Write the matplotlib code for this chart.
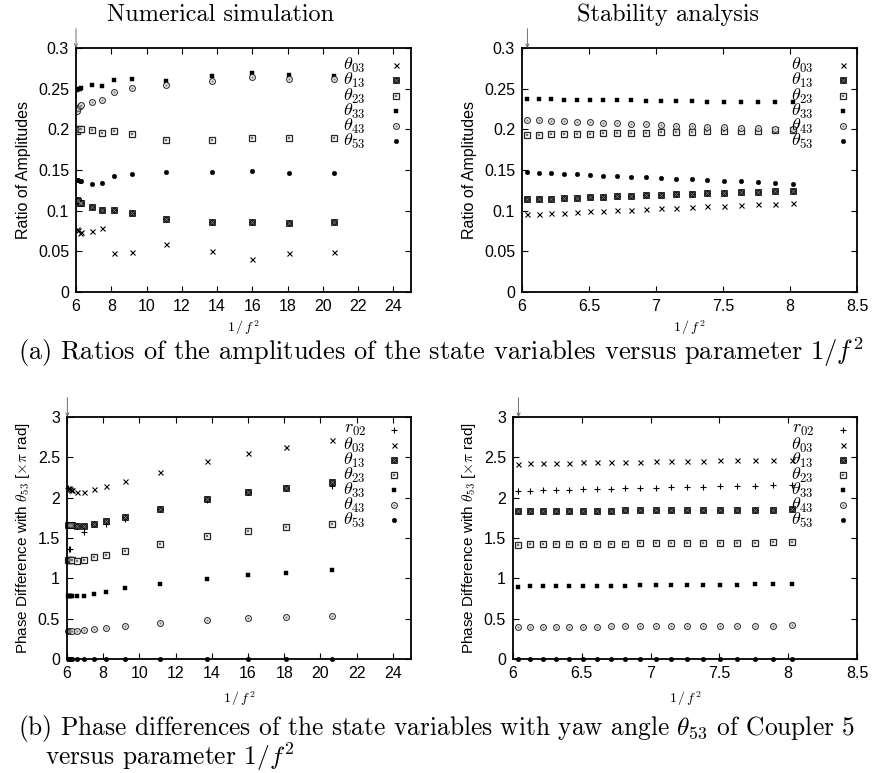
import matplotlib
matplotlib.use("Agg")
import matplotlib.pyplot as plt
from matplotlib.ticker import FuncFormatter, MultipleLocator

plt.rcParams['font.family'] = ['Liberation Sans', 'DejaVu Sans']
plt.rcParams['mathtext.fontset'] = 'cm'
plt.rcParams['axes.formatter.use_mathtext'] = True

# ---------------- data ----------------
# (a) amplitude ratios, numerical simulation
x_num_amp = [6.04, 6.12, 6.20, 6.28, 6.93, 7.50, 8.16, 9.18, 11.11, 13.72, 16.00, 18.10, 20.66]
amp_num_t03 = [0.078, 0.076, 0.072, 0.074, 0.0748, 0.0785, 0.0485, 0.049, 0.059, 0.051, 0.041, 0.0485, 0.049]
amp_num_t13 = [0.113, 0.112, 0.110, 0.109, 0.104, 0.101, 0.101, 0.097, 0.090, 0.0863, 0.0855, 0.0847, 0.0855]
amp_num_t23 = [0.198, 0.200, 0.200, 0.201, 0.199, 0.196, 0.1985, 0.194, 0.1866, 0.1874, 0.1895, 0.1895, 0.1895]
amp_num_t33 = [0.248, 0.249, 0.250, 0.251, 0.254, 0.2536, 0.261, 0.262, 0.260, 0.265, 0.269, 0.267, 0.266]
amp_num_t43 = [0.223, 0.226, 0.229, 0.230, 0.234, 0.2355, 0.246, 0.251, 0.254, 0.260, 0.264, 0.262, 0.262]
amp_num_t53 = [0.138, 0.138, 0.137, 0.136, 0.1328, 0.134, 0.1422, 0.1455, 0.1476, 0.1476, 0.1488, 0.1467, 0.1463]

# stability analysis x values (shared by both stability panels)
x_stab = [6.037, 6.127, 6.219, 6.313, 6.409, 6.508, 6.608, 6.712, 6.817, 6.925,
          7.036, 7.149, 7.265, 7.384, 7.506, 7.631, 7.759, 7.890, 8.025]
amp_stab_t03 = [0.0955, 0.0962, 0.0969, 0.0976, 0.0983, 0.0990, 0.0998, 0.1005, 0.1013, 0.1021,
                0.1029, 0.1037, 0.1045, 0.1053, 0.1061, 0.1070, 0.1078, 0.1087, 0.1096]
amp_stab_t13 = [0.1138, 0.1143, 0.1148, 0.1154, 0.1159, 0.1165, 0.1170, 0.1176, 0.1182, 0.1188,
                0.1194, 0.1200, 0.1206, 0.1212, 0.1219, 0.1225, 0.1232, 0.1239, 0.1246]
amp_stab_t23 = [0.1932, 0.1935, 0.1938, 0.1941, 0.1944, 0.1947, 0.1950, 0.1953, 0.1957, 0.1960,
                0.1964, 0.1967, 0.1970, 0.1974, 0.1977, 0.1980, 0.1984, 0.1988, 0.1993]
amp_stab_t33 = [0.2370, 0.2370, 0.2368, 0.2366, 0.2364, 0.2362, 0.2360, 0.2357, 0.2355, 0.2352,
                0.2350, 0.2347, 0.2345, 0.2342, 0.2340, 0.2337, 0.2335, 0.2332, 0.2330]
amp_stab_t43 = [0.2115, 0.2110, 0.2105, 0.2100, 0.2093, 0.2087, 0.2080, 0.2073, 0.2067, 0.2060,
                0.2053, 0.2046, 0.2040, 0.2033, 0.2026, 0.2020, 0.2012, 0.2005, 0.1998]
amp_stab_t53 = [0.1470, 0.1465, 0.1458, 0.1452, 0.1445, 0.1438, 0.1431, 0.1424, 0.1416, 0.1409,
                0.1401, 0.1393, 0.1385, 0.1377, 0.1368, 0.1360, 0.1351, 0.1342, 0.1333]

# (b) phase differences, numerical simulation
x_num_ph = [6.04, 6.10, 6.16, 6.22, 6.28, 6.55, 6.93, 7.50, 8.16, 9.18, 11.11, 13.72, 16.00, 18.10, 20.66]
ph_num_r02 = [2.12, 1.36, 1.36, 1.655, 1.655, 1.645, 1.578, 1.67, 1.675, 1.74, 1.855, 1.975, 2.075, 2.12, 2.14]
ph_num_t03 = [2.126, 2.12, 2.11, 2.10, 2.10, 2.07, 2.07, 2.11, 2.15, 2.21, 2.32, 2.45, 2.55, 2.625, 2.71]
ph_num_t13 = [1.656, 1.656, 1.656, 1.658, 1.66, 1.648, 1.652, 1.677, 1.714, 1.764, 1.858, 1.978, 2.065, 2.126, 2.19]
ph_num_t23 = [1.228, 1.228, 1.23, 1.232, 1.232, 1.22, 1.228, 1.26, 1.294, 1.343, 1.426, 1.525, 1.582, 1.632, 1.673]
ph_num_t33 = [0.783, 0.783, 0.783, 0.784, 0.784, 0.779, 0.787, 0.808, 0.836, 0.874, 0.931, 0.997, 1.038, 1.071, 1.10]
ph_num_t43 = [0.35, 0.35, 0.35, 0.352, 0.352, 0.35, 0.354, 0.367, 0.387, 0.408, 0.441, 0.478, 0.503, 0.519, 0.536]
ph_num_t53 = [0, 0, 0, 0, 0, 0, 0, 0, 0, 0, 0, 0, 0, 0, 0]

# (b) phase differences, stability analysis
ph_stab_r02 = [2.085, 2.088, 2.092, 2.096, 2.100, 2.104, 2.107, 2.111, 2.115, 2.119,
               2.123, 2.127, 2.131, 2.135, 2.139, 2.143, 2.147, 2.151, 2.155]
ph_stab_t03 = [2.423, 2.426, 2.429, 2.431, 2.434, 2.437, 2.440, 2.442, 2.445, 2.448,
               2.451, 2.453, 2.456, 2.459, 2.462, 2.464, 2.467, 2.470, 2.473]
ph_stab_t13 = [1.830, 1.831, 1.833, 1.834, 1.835, 1.837, 1.838, 1.839, 1.841, 1.842,
               1.843, 1.845, 1.846, 1.847, 1.849, 1.850, 1.851, 1.853, 1.854]
ph_stab_t23 = [1.418, 1.420, 1.421, 1.423, 1.424, 1.426, 1.428, 1.429, 1.431, 1.432,
               1.434, 1.435, 1.437, 1.439, 1.440, 1.442, 1.443, 1.445, 1.446]
ph_stab_t33 = [0.898, 0.900, 0.901, 0.903, 0.904, 0.906, 0.908, 0.909, 0.911, 0.912,
               0.914, 0.916, 0.917, 0.919, 0.920, 0.922, 0.924, 0.925, 0.927]
ph_stab_t43 = [0.396, 0.397, 0.398, 0.399, 0.400, 0.401, 0.402, 0.403, 0.404, 0.405,
               0.406, 0.407, 0.408, 0.410, 0.411, 0.412, 0.413, 0.414, 0.416]
ph_stab_t53 = [0, 0, 0, 0, 0, 0, 0, 0, 0, 0, 0, 0, 0, 0, 0, 0, 0, 0, 0]

labels = {
    'r02': r'$r_{02}$', 't03': r'$\theta_{03}$', 't13': r'$\theta_{13}$', 't23': r'$\theta_{23}$',
    't33': r'$\theta_{33}$', 't43': r'$\theta_{43}$', 't53': r'$\theta_{53}$',
}

# ---------------- styling ----------------
W, H = 873, 773
fig = plt.figure(figsize=(W / 100, H / 100), dpi=100)


def draw(ax, key, x, y, transform=None, clip=True):
    kw = dict(linestyle='none', clip_on=clip)
    if transform is not None:
        kw['transform'] = transform
    if key == 'r02':
        ax.plot(x, y, marker='+', ms=4.2, mew=0.8, color='k', **kw)
    elif key == 't03':
        ax.plot(x, y, marker='x', ms=3.6, mew=0.8, color='k', **kw)
    elif key == 't13':
        ax.plot(x, y, marker='s', ms=3.7, mfc='0.1', mec='k', mew=0.5, **kw)
        ax.plot(x, y, marker='x', ms=2.6, mew=0.4, color='0.55', **kw)
    elif key == 't23':
        ax.plot(x, y, marker='s', ms=4.4, mfc='white', mec='0.15', mew=0.9, **kw)
        ax.plot(x, y, marker='s', ms=1.6, mfc='0.45', mec='0.45', mew=0.3, **kw)
    elif key == 't33':
        ax.plot(x, y, marker='s', ms=3.2, mfc='k', mec='k', mew=0.3, **kw)
    elif key == 't43':
        ax.plot(x, y, marker='o', ms=4.2, mfc='white', mec='0.2', mew=0.8, **kw)
        ax.plot(x, y, marker='o', ms=1.4, mfc='0.5', mec='0.5', mew=0.2, **kw)
    elif key == 't53':
        ax.plot(x, y, marker='o', ms=3.3, mfc='k', mec='k', mew=0.3, **kw)


def make_axes(l, t, r, b):
    ax = fig.add_axes([l / W, 1 - b / H, (r - l) / W, (b - t) / H])
    for s in ax.spines.values():
        s.set_linewidth(1.3)
    ax.tick_params(direction='in', top=True, right=True, length=4, width=0.8,
                   labelsize=11.5, pad=5)
    ax.yaxis.set_major_formatter(FuncFormatter(lambda v, p: '%g' % round(v, 4)))
    ax.xaxis.set_major_formatter(FuncFormatter(lambda v, p: '%g' % round(v, 4)))
    return ax, (l, t, r, b)


def legend(ax, box, keys, text_right, marker_x, rows):
    l, t, r, b = box
    for key, py in zip(keys, rows):
        ya = (b - py) / (b - t)
        ax.text((text_right - l) / (r - l), ya, labels[key], transform=ax.transAxes,
                ha='right', va='center', fontsize=13)
        draw(ax, key, [(marker_x - l) / (r - l)], [ya], transform=ax.transAxes, clip=False)


def arrow(ax, x, ytop):
    ax.annotate('', xy=(x, ytop), xytext=(0, 14), textcoords='offset points',
                xycoords='data', annotation_clip=False,
                arrowprops=dict(arrowstyle='->', color='0.35', lw=0.6,
                                shrinkA=0, shrinkB=0, mutation_scale=6))


def xlabel(box, y):
    l, t, r, b = box
    fig.text((l + r) / 2 / W, 1 - y / H, r'$1\,/\,f^2$', ha='center', va='center', fontsize=10)


keys_amp = ['t03', 't13', 't23', 't33', 't43', 't53']
keys_ph = ['r02', 't03', 't13', 't23', 't33', 't43', 't53']

# ---- (a) numerical ----
ax1, b1 = make_axes(76, 48, 411, 292)
for k, ys in zip(keys_amp, [amp_num_t03, amp_num_t13, amp_num_t23, amp_num_t33, amp_num_t43, amp_num_t53]):
    draw(ax1, k, x_num_amp, ys)
ax1.set_xlim(6, 25)
ax1.set_ylim(0, 0.3)
ax1.xaxis.set_major_locator(MultipleLocator(2))
ax1.yaxis.set_major_locator(MultipleLocator(0.05))
ax1.set_ylabel('Ratio of Amplitudes', fontsize=11.5, labelpad=5)
legend(ax1, b1, keys_amp, 366, 396, [65, 80, 96, 111, 126, 141])
arrow(ax1, 6, 0.3)
xlabel(b1, 328)

# ---- (a) stability ----
ax2, b2 = make_axes(522, 48, 857, 292)
for k, ys in zip(keys_amp, [amp_stab_t03, amp_stab_t13, amp_stab_t23, amp_stab_t33, amp_stab_t43, amp_stab_t53]):
    draw(ax2, k, x_stab, ys)
ax2.set_xlim(6, 8.5)
ax2.set_ylim(0, 0.3)
ax2.xaxis.set_major_locator(MultipleLocator(0.5))
ax2.yaxis.set_major_locator(MultipleLocator(0.05))
ax2.set_ylabel('Ratio of Amplitudes', fontsize=11.5, labelpad=5)
legend(ax2, b2, keys_amp, 814, 843, [65, 80, 96, 111, 126, 141])
arrow(ax2, 6.04, 0.3)
xlabel(b2, 328)

# ---- (b) numerical ----
ax3, b3 = make_axes(67, 417, 411, 659)
for k, ys in zip(keys_ph, [ph_num_r02, ph_num_t03, ph_num_t13, ph_num_t23, ph_num_t33, ph_num_t43, ph_num_t53]):
    draw(ax3, k, x_num_ph, ys, clip=False)
ax3.set_xlim(6, 25)
ax3.set_ylim(0, 3)
ax3.xaxis.set_major_locator(MultipleLocator(2))
ax3.yaxis.set_major_locator(MultipleLocator(0.5))
ax3.set_ylabel(r'Phase Difference with $\theta_{53}$ [$\times\pi$ rad]', fontsize=11, labelpad=4)
legend(ax3, b3, keys_ph, 366, 394, [430, 445, 460, 475, 490, 505, 520])
arrow(ax3, 6.02, 3)
xlabel(b3, 699)

# ---- (b) stability ----
ax4, b4 = make_axes(513, 417, 857, 659)
for k, ys in zip(keys_ph, [ph_stab_r02, ph_stab_t03, ph_stab_t13, ph_stab_t23, ph_stab_t33, ph_stab_t43, ph_stab_t53]):
    draw(ax4, k, x_stab, ys, clip=False)
ax4.set_xlim(6, 8.5)
ax4.set_ylim(0, 3)
ax4.xaxis.set_major_locator(MultipleLocator(0.5))
ax4.yaxis.set_major_locator(MultipleLocator(0.5))
ax4.set_ylabel(r'Phase Difference with $\theta_{53}$ [$\times\pi$ rad]', fontsize=11, labelpad=4)
legend(ax4, b4, keys_ph, 814, 843, [430, 445, 460, 475, 490, 505, 520])
arrow(ax4, 6.04, 3)
xlabel(b4, 699)

# ---- titles & captions ----
serif = dict(family=['cmr10', 'DejaVu Serif'])
fig.text(221 / W, 1 - 15 / H, 'Numerical simulation', ha='center', va='center', fontsize=17.5, **serif)
fig.text(668 / W, 1 - 15 / H, 'Stability analysis', ha='center', va='center', fontsize=17.5, **serif)
fig.text(18 / W, 1 - 352 / H, r'(a) Ratios of the amplitudes of the state variables versus parameter $1/f^2$',
         ha='left', va='center', fontsize=19, **serif)
fig.text(18 / W, 1 - 729 / H, r'(b) Phase differences of the state variables with yaw angle $\theta_{53}$ of Coupler 5',
         ha='left', va='center', fontsize=18.3, **serif)
fig.text(45 / W, 1 - 757 / H, r'versus parameter $1/f^2$', ha='left', va='center', fontsize=18.3, **serif)

fig.savefig('out.png', dpi=100)
